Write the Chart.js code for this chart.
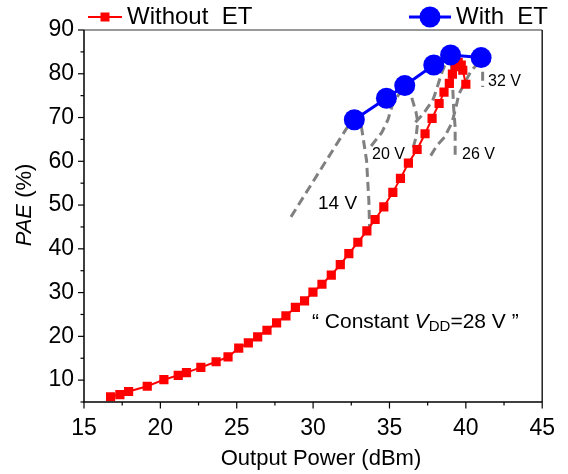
<!DOCTYPE html>
<html>
<head>
<meta charset="utf-8">
<script src="https://cdn.jsdelivr.net/npm/chart.js@4.4.0/dist/chart.umd.min.js"></script>
<style>
  body { margin: 0; background: #fff; }
  #wrap { width: 568px; height: 474px; }
</style>
</head>
<body>
<div id="wrap"><canvas id="pae" width="568" height="474"></canvas></div>
<script>
// 数据: 不带包络跟踪 (恒定 28 V)
const withoutEtX = [16.74, 17.35, 17.92, 19.14, 20.23, 21.17, 21.71, 22.65, 23.65, 24.43,
    25.13, 25.76, 26.37, 26.98, 27.61, 28.22, 28.84, 29.44, 29.99, 30.58,
    31.19, 31.78, 32.34, 32.93, 33.52, 34.06, 34.63, 35.22, 35.72, 36.24,
    36.81, 37.33, 37.79, 38.25, 38.57, 38.92, 39.12, 39.31, 39.5, 39.7, 39.8, 40.0];
const withoutEtY = [6.2, 6.7, 7.4, 8.6, 10.1, 11.1, 11.7, 12.9, 14.2, 15.3,
    17.3, 18.5, 19.9, 21.4, 23.1, 24.7, 26.6, 28.1, 30.1, 31.9,
    34.0, 36.4, 38.9, 41.5, 44.1, 46.7, 49.6, 52.9, 56.1, 59.6,
    62.7, 66.3, 69.8, 73.2, 75.8, 77.8, 79.9, 81.6, 82.6, 82.0, 80.8, 77.6];

// 数据: 带包络跟踪
const withEtX = [32.7, 34.8, 36.0, 37.9, 39.0, 41.0];
const withEtY = [69.5, 74.4, 77.3, 82.0, 84.3, 83.7];

// 各电源电压下的曲线 (灰色虚线)
const v14X = [28.55, 30.4, 32.17, 32.7, 33.15, 33.5, 33.65, 33.7];
const v14Y = [47.3, 57.6, 67.4, 69.5, 68.2, 60.2, 51.0, 44.5];
const v20X = [33.8, 34.5, 34.9, 35.2, 35.65, 36.0, 36.42, 36.74, 36.85, 36.74, 36.5];
const v20Y = [63.5, 66.6, 69.5, 73.0, 75.5, 77.3, 75.0, 71.2, 69.0, 65.5, 62.5];
const v26X = [36.7, 37.2, 37.83, 38.05, 38.45, 38.7, 39.0, 39.1, 39.2, 39.3, 39.3];
const v26Y = [68.9, 70.8, 73.9, 76.1, 80.5, 82.5, 84.3, 80.0, 72.3, 67.8, 60.5];
const v32X = [37.7, 38.1, 38.6, 39.1, 39.3, 39.55, 40.0, 40.35, 40.7, 41.0, 41.1, 41.1];
const v32Y = [61.3, 63.6, 65.5, 68.9, 71.6, 75.4, 78.4, 80.7, 82.0, 83.7, 80.5, 77.0];

// 坐标轴
const xMin = 15, xMax = 45, xStep = 2.5;
const yMin = 5, yMax = 90, yStep = 5;

const FONT = "'Liberation Sans', Arial, sans-serif";

const toPoints = (xs, ys) => xs.map((x, i) => ({ x: x, y: ys[i] }));

const greyLine = (xs, ys) => ({
    data: toPoints(xs, ys),
    showLine: true,
    borderColor: '#808080',
    borderWidth: 3,
    borderDash: [9, 5],
    pointRadius: 0,
    order: 3
});

// 自定义绘制: 边框、刻度、图例、标注
const decor = {
    id: 'decor',
    afterDraw(chart) {
        const ctx = chart.ctx;
        const a = chart.chartArea;
        const xs = chart.scales.x;
        const ys = chart.scales.y;
        ctx.save();

        // 边框
        ctx.lineWidth = 1.5;
        ctx.strokeStyle = '#777';
        ctx.beginPath();
        ctx.moveTo(a.left, a.top);
        ctx.lineTo(a.right, a.top);
        ctx.stroke();
        ctx.strokeStyle = '#222';
        ctx.beginPath();
        ctx.moveTo(a.right, a.top);
        ctx.lineTo(a.right, a.bottom);
        ctx.stroke();
        ctx.strokeStyle = '#000';
        ctx.beginPath();
        ctx.moveTo(a.left, a.top);
        ctx.lineTo(a.left, a.bottom);
        ctx.lineTo(a.right, a.bottom);
        ctx.stroke();

        // 刻度线
        ctx.lineWidth = 1.2;
        ys.ticks.forEach(t => {
            const py = ys.getPixelForValue(t.value);
            const len = t.value % 10 === 0 ? 6 : 3.5;
            ctx.beginPath();
            ctx.moveTo(a.left - len, py);
            ctx.lineTo(a.left, py);
            ctx.stroke();
        });
        xs.ticks.forEach(t => {
            const px = xs.getPixelForValue(t.value);
            const len = t.value % 5 === 0 ? 6.5 : 3.5;
            ctx.beginPath();
            ctx.moveTo(px, a.bottom);
            ctx.lineTo(px, a.bottom + len);
            ctx.stroke();
        });

        // 图例
        ctx.fillStyle = '#000';
        ctx.textBaseline = 'middle';
        ctx.textAlign = 'left';
        ctx.font = '24px ' + FONT;
        ctx.strokeStyle = '#ff0000';
        ctx.lineWidth = 2;
        ctx.beginPath();
        ctx.moveTo(88, 17);
        ctx.lineTo(122, 17);
        ctx.stroke();
        ctx.fillStyle = '#ff0000';
        ctx.fillRect(100.5, 12.5, 9, 9);
        ctx.fillStyle = '#000';
        ctx.fillText('Without  ET', 127, 17);

        ctx.strokeStyle = '#0000ff';
        ctx.lineWidth = 3;
        ctx.beginPath();
        ctx.moveTo(409, 17);
        ctx.lineTo(451, 17);
        ctx.stroke();
        ctx.fillStyle = '#0000ff';
        ctx.beginPath();
        ctx.arc(430, 17, 10.5, 0, Math.PI * 2);
        ctx.fill();
        ctx.fillStyle = '#000';
        ctx.fillText('With  ET', 456, 17);

        // 电压标注
        ctx.font = '19px ' + FONT;
        ctx.fillText('14 V', 318, 204);
        ctx.font = '16px ' + FONT;
        ctx.fillText('20 V', 372, 155);
        ctx.fillText('26 V', 462, 155);
        ctx.fillText('32 V', 488, 82);

        // 恒定电压说明
        let x = 312;
        const cy = 322;
        ctx.font = '21px ' + FONT;
        let s = '\u201C Constant ';
        ctx.fillText(s, x, cy);
        x += ctx.measureText(s).width;
        ctx.font = 'italic 21px ' + FONT;
        ctx.fillText('V', x, cy);
        x += ctx.measureText('V').width;
        ctx.font = '15px ' + FONT;
        ctx.fillText('DD', x, cy + 5);
        x += ctx.measureText('DD').width;
        ctx.font = '21px ' + FONT;
        ctx.fillText('=28 V \u201D', x, cy);

        // 轴标题
        ctx.font = '22px ' + FONT;
        ctx.textAlign = 'center';
        ctx.fillText('Output Power (dBm)', 321, 459);

        ctx.translate(25, 205);
        ctx.rotate(-Math.PI / 2);
        ctx.font = 'italic 22px ' + FONT;
        const w1 = ctx.measureText('PAE').width;
        ctx.font = '22px ' + FONT;
        const w2 = ctx.measureText(' (%)').width;
        ctx.textAlign = 'left';
        ctx.font = 'italic 22px ' + FONT;
        ctx.fillText('PAE', -(w1 + w2) / 2, 0);
        ctx.font = '22px ' + FONT;
        ctx.fillText(' (%)', -(w1 + w2) / 2 + w1, 0);

        ctx.restore();
    }
};

new Chart(document.getElementById('pae'), {
    type: 'scatter',
    data: {
        datasets: [
            {
                label: 'With  ET',
                data: toPoints(withEtX, withEtY),
                showLine: true,
                borderColor: '#0000ff',
                backgroundColor: '#0000ff',
                borderWidth: 3,
                pointStyle: 'circle',
                pointRadius: 10.5,
                pointBorderWidth: 0,
                order: 1
            },
            {
                label: 'Without  ET',
                data: toPoints(withoutEtX, withoutEtY),
                showLine: true,
                borderColor: '#ff0000',
                backgroundColor: '#ff0000',
                borderWidth: 2,
                pointStyle: 'rect',
                pointRadius: 6.5,
                pointBorderWidth: 0,
                order: 2
            },
            greyLine(v14X, v14Y),
            greyLine(v20X, v20Y),
            greyLine(v26X, v26Y),
            greyLine(v32X, v32Y)
        ]
    },
    options: {
        responsive: false,
        animation: false,
        devicePixelRatio: 1,
        layout: { padding: { top: 30, right: 25, left: 0, bottom: 0 } },
        plugins: {
            legend: { display: false },
            tooltip: { enabled: false }
        },
        scales: {
            x: {
                type: 'linear',
                min: xMin,
                max: xMax,
                afterFit: s => { s.height = 72; },
                grid: { display: false, drawTicks: false },
                border: { display: false },
                ticks: {
                    stepSize: xStep,
                    autoSkip: false,
                    maxRotation: 0,
                    padding: 13,
                    color: '#000',
                    font: { family: FONT, size: 23 },
                    callback: v => (v % 5 === 0 ? v : '')
                }
            },
            y: {
                type: 'linear',
                min: yMin,
                max: yMax,
                afterFit: s => { s.width = 84; },
                grid: { display: false, drawTicks: false },
                border: { display: false },
                ticks: {
                    stepSize: yStep,
                    autoSkip: false,
                    padding: 10,
                    color: '#000',
                    font: { family: FONT, size: 23 },
                    callback: v => (v % 10 === 0 ? v : '')
                }
            }
        }
    },
    plugins: [decor]
});
</script>
</body>
</html>
